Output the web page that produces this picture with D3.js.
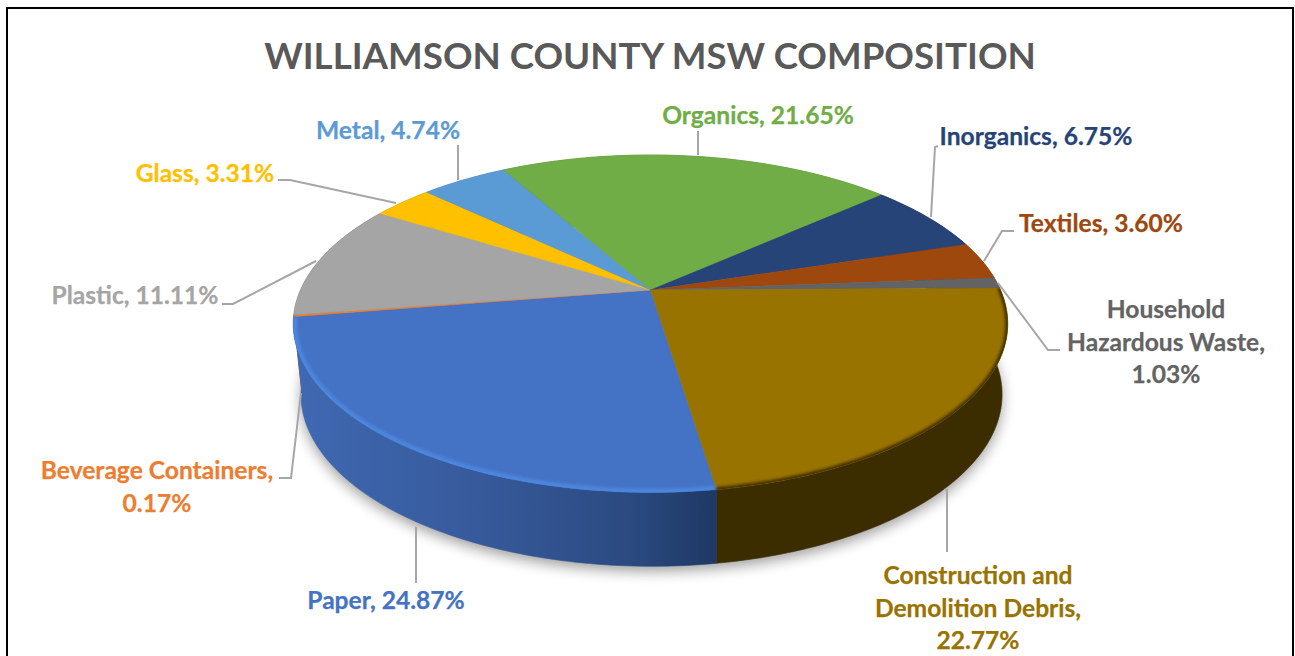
<!DOCTYPE html>
<html><head><meta charset="utf-8">
<script src="https://cdn.jsdelivr.net/npm/d3@7/dist/d3.min.js"></script>
<style>html,body{margin:0;padding:0;background:#fff;overflow:hidden}svg{display:block}text{font-family:Lato,Carlito,sans-serif;font-weight:700}</style>
</head><body><svg id="c" width="1295" height="656"></svg>
<script>
const titleText = "WILLIAMSON COUNTY MSW COMPOSITION";
const categories = ["Paper","Beverage Containers","Plastic","Glass","Metal","Organics","Inorganics","Textiles","Household Hazardous Waste","Construction and Demolition Debris"];
const values = [24.87,0.17,11.11,3.31,4.74,21.65,6.75,3.60,1.03,22.77];
const colors = ["#4472C4","#ED7D31","#A5A5A5","#FFC000","#5B9BD5","#70AD47","#264478","#9E480E","#636363","#997300"];
const labelLines = [
  ["Paper, 24.87%"],
  ["Beverage Containers,","0.17%"],
  ["Plastic, 11.11%"],
  ["Glass, 3.31%"],
  ["Metal, 4.74%"],
  ["Organics, 21.65%"],
  ["Inorganics, 6.75%"],
  ["Textiles, 3.60%"],
  ["Household","Hazardous Waste,","1.03%"],
  ["Construction and","Demolition Debris,","22.77%"]
];
// label layout: centre x, first baseline y
const labelX = [386,157,135,205,388,758,1036,1101,1166,978];
const labelY = [609,479,304,182,139,124,145,232,318,584];
// leader polylines
const leaders = [
  [[416,527],[416,583]],
  [[279,478],[291,478],[301,393]],
  [[222,304],[233,304],[316,261]],
  [[278,180],[290,180],[396,203]],
  [[458,145],[458,180]],
  [[698,131],[698,155]],
  [[938,146],[935,147],[931,217]],
  [[1014,231],[1002,231],[984,261]],
  [[1060,350],[1048,350],[998,283]],
  [[947,489],[947,552]]
];

const svg = d3.select("#c");
const defs = svg.append("defs");
const blur = (id,s)=>defs.append("filter").attr("id",id).attr("x","-10%").attr("y","-20%").attr("width","120%").attr("height","140%")
  .append("feGaussianBlur").attr("stdDeviation",s);
blur("b6",7); blur("b2",1.7);

// projection of the tilted disc
const persp = 0.2;
const topPlane = {x:d3.scaleLinear().domain([-1,1]).range([650.5-350,650.5+350]), y:d3.scaleLinear().domain([-1,1]).range([290-162,290+162])};
const botPlane = {x:d3.scaleLinear().domain([-1,1]).range([651.5-343.5,651.5+343.5]), y:d3.scaleLinear().domain([-1,1]).range([360-165,360+165])};
const rad = Math.PI/180;
function proj(plane,a){
  const u=Math.sin(a), v=-Math.cos(a), w=1-persp*v;
  return [plane.x(u/w), plane.y(v/w)];
}
const startDeg = 171.3;
const pie = d3.pie().sort(null).startAngle(startDeg*rad).endAngle((startDeg+360)*rad);
const arcs = pie(values);
const samples = (a0,a1)=>{const n=Math.max(2,Math.ceil((a1-a0)/rad));return d3.range(n+1).map(i=>a0+(a1-a0)*i/n);};
const line = d3.line();

// frame
svg.append("path").attr("d",line([[7,656],[7,8],[1293,8],[1293,656]])).attr("fill","none").attr("stroke","#000").attr("stroke-width",2);

// title
svg.append("text").attr("x",650).attr("y",69).attr("text-anchor","middle").attr("font-size",36.7).attr("fill","#595959").text(titleText);

// soft shadow
svg.append("path").attr("d",line(samples(0,2*Math.PI).map(a=>{const p=proj(botPlane,a);return [p[0],p[1]+5];}))+"Z")
  .attr("fill","#000").attr("opacity",.38).attr("filter","url(#b6)");

// side-wall gradients
const wallStops = {
  0:[["0%","#3f69b2"],["45%","#36599a"],["80%","#2a4a80"],["100%","#1f3864"]],
  9:[["0%","#412f00"],["100%","#3c2d00"]]
};
Object.entries(wallStops).forEach(([k,st])=>{
  const g=defs.append("linearGradient").attr("id","w"+k).attr("gradientUnits","userSpaceOnUse").attr("x1",295).attr("x2",716).attr("y1",0).attr("y2",0);
  st.forEach(s=>g.append("stop").attr("offset",s[0]).attr("stop-color",s[1]));
});
const wallFill=(i)=>wallStops[i]?`url(#w${i})`:d3.color(colors[i]).darker(.8);

// walls, far slices first so the front ones cover them
const wallOrder = arcs.map((d,i)=>({d,i})).sort((a,b)=>(-Math.cos((a.d.startAngle+a.d.endAngle)/2))-(-Math.cos((b.d.startAngle+b.d.endAngle)/2)));
svg.append("g").selectAll("path").data(wallOrder).join("path")
  .attr("d",o=>{const s=samples(o.d.startAngle,o.d.endAngle);
    return line(s.map(a=>proj(topPlane,a)).concat(s.slice().reverse().map(a=>proj(botPlane,a))))+"Z";})
  .attr("fill",o=>wallFill(o.i)).attr("stroke",o=>wallFill(o.i)).attr("stroke-width",.6);

// top faces
const cx=topPlane.x(0), cy=topPlane.y(0);
svg.append("g").selectAll("path").data(arcs).join("path")
  .attr("d",d=>line([[cx,cy]].concat(samples(d.startAngle,d.endAngle).map(a=>proj(topPlane,a))))+"Z")
  .attr("fill",(d,i)=>colors[i]).attr("stroke",(d,i)=>colors[i]).attr("stroke-width",.4);

// bevel along the front rim
const clip=defs.append("clipPath").attr("id","disc");
clip.append("path").attr("d",line(samples(0,2*Math.PI).map(a=>proj(topPlane,a)))+"Z");
const rim=(i,col,w)=>svg.append("g").attr("clip-path","url(#disc)").append("path").attr("d",line(samples(arcs[i].startAngle,arcs[i].endAngle).map(a=>proj(topPlane,a))))
  .attr("fill","none").attr("stroke",col).attr("stroke-width",w).attr("filter","url(#b2)");
rim(0,"#4c86de",8);
rim(9,"#3f2f00",5);

// leaders
svg.append("g").selectAll("path").data(leaders).join("path").attr("d",d=>line(d))
  .attr("fill","none").attr("stroke","#A6A6A6").attr("stroke-width",2);

// labels
const lbl=svg.append("g").selectAll("text").data(labelLines).join("text")
  .attr("text-anchor","middle").attr("font-size",24.6).attr("fill",(d,i)=>colors[i])
  .attr("stroke",(d,i)=>colors[i]).attr("stroke-width",.25);
lbl.selectAll("tspan").data((d,i)=>d.map((t,j)=>({t,j,i}))).join("tspan")
  .attr("x",d=>labelX[d.i]).attr("y",d=>labelY[d.i]+d.j*32.7).text(d=>d.t);
</script></body></html>
